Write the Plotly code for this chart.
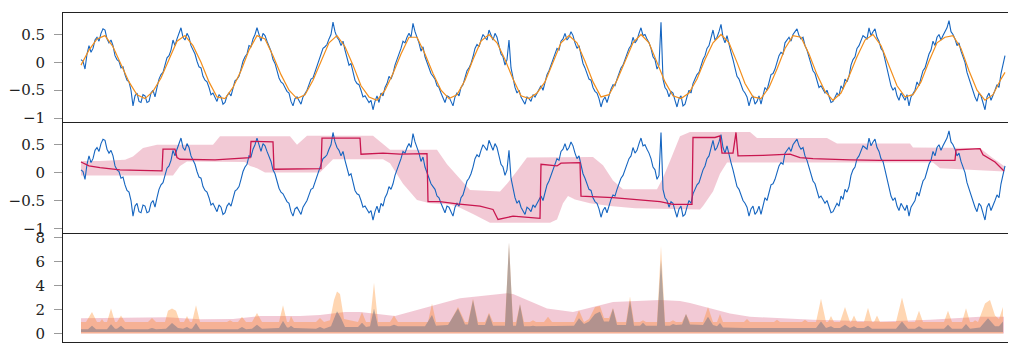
import plotly.graph_objects as go

# ---------------- data ----------------
T_STEP = 2  # time units between raw samples

# raw noisy signal (top and middle panels)
BLUE = [
    0.05, 0.02, -0.12, 0.15, 0.30, 0.18, 0.25, 0.40, 0.45, 0.38,
    0.52, 0.60, 0.58, 0.42, 0.35, 0.40, 0.30, 0.12, 0.05, 0.02,
    -0.10, -0.08, -0.22, -0.32, -0.35, -0.50, -0.78, -0.60, -0.55, -0.70,
    -0.72, -0.58, -0.60, -0.72, -0.70, -0.55, -0.50, -0.62, -0.45, -0.30,
    -0.22, -0.18, -0.05, 0.08, 0.12, 0.22, 0.40, 0.30, 0.42, 0.52,
    0.62, 0.45, 0.40, 0.52, 0.45, 0.30, 0.22, 0.15, 0.02, -0.08,
    -0.10, -0.25, -0.32, -0.35, -0.45, -0.58, -0.55, -0.62, -0.70, -0.58,
    -0.62, -0.75, -0.72, -0.60, -0.55, -0.60, -0.45, -0.33, -0.30, -0.25,
    -0.12, 0.02, 0.10, 0.15, 0.30, 0.28, 0.42, 0.50, 0.62, 0.48,
    0.38, 0.52, 0.48, 0.38, 0.30, 0.20, 0.05, -0.02, -0.15, -0.28,
    -0.35, -0.38, -0.45, -0.52, -0.55, -0.70, -0.78, -0.65, -0.62, -0.70,
    -0.75, -0.62, -0.55, -0.50, -0.40, -0.30, -0.28, -0.18, -0.05, 0.05,
    0.12, 0.25, 0.28, 0.32, 0.42, 0.50, 0.72, 0.55, 0.45, 0.40,
    0.30, 0.38, 0.22, 0.10, -0.05, -0.02, -0.20, -0.32, -0.38, -0.40,
    -0.50, -0.62, -0.60, -0.65, -0.72, -0.68, -0.85, -0.70, -0.60, -0.72,
    -0.55, -0.60, -0.45, -0.38, -0.25, -0.30, -0.20, -0.05, 0.05, 0.12,
    0.25, 0.38, 0.35, 0.45, 0.52, 0.45, 0.70, 0.55, 0.45, 0.35,
    0.20, 0.28, 0.10, 0.00, -0.08, -0.20, -0.25, -0.30, -0.42, -0.45,
    -0.55, -0.65, -0.72, -0.60, -0.62, -0.70, -0.78, -0.62, -0.55, -0.60,
    -0.45, -0.40, -0.28, -0.15, -0.10, -0.02, 0.10, 0.25, 0.32, 0.28,
    0.40, 0.50, 0.45, 0.40, 0.58, 0.48, 0.40, 0.52, 0.45, 0.30,
    0.15, 0.10, -0.05, 0.05, 0.40, -0.10, -0.30, -0.45, -0.55, -0.50,
    -0.62, -0.70, -0.75, -0.62, -0.65, -0.70, -0.58, -0.62, -0.55, -0.48,
    -0.42, -0.50, -0.35, -0.22, -0.15, -0.05, 0.08, 0.18, 0.25, 0.22,
    0.38, 0.42, 0.52, 0.40, 0.45, 0.55, 0.48, 0.35, 0.25, 0.30,
    0.12, -0.02, -0.10, -0.22, -0.30, -0.32, -0.45, -0.52, -0.55, -0.65,
    -0.80, -0.68, -0.62, -0.72, -0.58, -0.48, -0.40, -0.42, -0.30, -0.18,
    -0.10, -0.05, 0.05, 0.18, 0.25, 0.30, 0.45, 0.35, 0.40, 0.52,
    0.62, 0.48, 0.50, 0.42, 0.35, 0.25, 0.10, 0.05, -0.12, -0.05,
    0.72, -0.30, -0.45, -0.50, -0.62, -0.52, -0.55, -0.68, -0.80, -0.65,
    -0.60, -0.78, -0.75, -0.62, -0.50, -0.55, -0.38, -0.30, -0.22, -0.18,
    -0.05, 0.05, 0.12, 0.25, 0.30, 0.45, 0.58, 0.40, 0.45, 0.55,
    0.68, 0.45, 0.35, 0.48, 0.30, 0.18, 0.05, -0.08, -0.25, -0.30,
    -0.40, -0.50, -0.55, -0.62, -0.78, -0.65, -0.60, -0.75, -0.70, -0.60,
    -0.75, -0.58, -0.45, -0.50, -0.35, -0.22, -0.20, -0.12, 0.00, 0.12,
    0.18, 0.15, 0.35, 0.40, 0.45, 0.38, 0.50, 0.55, 0.60, 0.48,
    0.42, 0.45, 0.30, 0.22, 0.10, -0.05, -0.15, -0.20, -0.35, -0.45,
    -0.42, -0.50, -0.55, -0.50, -0.62, -0.72, -0.70, -0.62, -0.55, -0.60,
    -0.42, -0.48, -0.30, -0.35, -0.25, -0.05, 0.05, 0.10, 0.25, 0.30,
    0.38, 0.48, 0.45, 0.42, 0.62, 0.48, 0.55, 0.60, 0.45, 0.38,
    0.25, 0.20, 0.05, -0.12, -0.25, -0.42, -0.50, -0.45, -0.60, -0.68,
    -0.55, -0.62, -0.68, -0.58, -0.78, -0.62, -0.55, -0.50, -0.35, -0.42,
    -0.28, -0.15, -0.10, 0.05, 0.15, 0.22, 0.38, 0.30, 0.45, 0.50,
    0.40, 0.48, 0.55, 0.62, 0.75, 0.55, 0.50, 0.42, 0.30, 0.35,
    0.20, 0.08, 0.00, -0.18, -0.30, -0.38, -0.50, -0.62, -0.70, -0.55,
    -0.60, -0.72, -0.85, -0.62, -0.55, -0.68, -0.60, -0.50, -0.40, -0.45,
    -0.20, -0.05, 0.12,
]

# smoothed signal (top panel)
ORANGE_T = [
    0, 8, 16, 24, 32, 40, 48, 56, 64, 72, 80, 88, 96, 104, 112, 120, 128, 136, 144, 152,
    160, 168, 176, 184, 192, 200, 208, 216, 224, 232, 240, 248, 256, 264, 272, 280, 288, 296, 304, 312,
    320, 328, 336, 344, 352, 360, 368, 376, 384, 392, 400, 408, 416, 424, 432, 440, 448, 456, 464, 472,
    480, 488, 496, 504, 512, 520, 528, 536, 544, 552, 560, 568, 576, 584, 592, 600, 608, 616, 624, 632,
    640, 648, 656, 664, 672, 680, 688, 696, 704, 712, 720, 728, 736, 744, 752, 760, 768, 776, 784, 792,
    800, 808, 816, 824, 832, 840, 848, 856, 864, 872, 880, 888, 896, 904, 912, 920, 924,
]
ORANGE = [
    -0.05, 0.22, 0.42, 0.48, 0.28, -0.05, -0.35, -0.58, -0.65, -0.52,
    -0.28, 0.05, 0.38, 0.48, 0.30, 0.00, -0.35, -0.62, -0.65, -0.45,
    -0.15, 0.22, 0.48, 0.42, 0.12, -0.22, -0.50, -0.65, -0.58, -0.32,
    0.00, 0.35, 0.48, 0.28, -0.05, -0.42, -0.62, -0.68, -0.50, -0.20,
    0.15, 0.45, 0.45, 0.15, -0.20, -0.50, -0.65, -0.58, -0.32, 0.05,
    0.38, 0.50, 0.35, 0.05, -0.30, -0.60, -0.65, -0.55, -0.35, 0.00,
    0.35, 0.48, 0.35, 0.02, -0.35, -0.62, -0.58, -0.32, 0.02, 0.35,
    0.50, 0.35, 0.00, -0.35, -0.60, -0.65, -0.55, -0.30, 0.05, 0.35,
    0.50, 0.35, 0.00, -0.38, -0.62, -0.65, -0.45, -0.12, 0.25, 0.48,
    0.45, 0.15, -0.22, -0.52, -0.68, -0.55, -0.25, 0.10, 0.40, 0.50,
    0.30, -0.05, -0.42, -0.62, -0.58, -0.35, 0.02, 0.35, 0.45, 0.48,
    0.25, -0.15, -0.50, -0.68, -0.58, -0.30, -0.18,
]

# middle panel: estimate line and its band
EST_T = [0, 4, 8, 19, 39, 59, 81, 82, 94, 96, 99, 134, 169, 170, 192, 193, 240, 241, 279, 280,
         302, 319, 346, 347, 359, 376, 399, 412, 417, 432, 459, 460, 476, 480, 499, 500, 532, 579,
         592, 611, 612, 634, 639, 641, 652, 655, 657, 682, 709, 719, 732, 769, 799, 874, 875, 899,
         902, 914, 923]
EST = [0.19, 0.15, 0.12, 0.09, 0.05, 0.04, 0.03, 0.42, 0.42, 0.27, 0.24, 0.23, 0.27, 0.56, 0.55,
       0.06, 0.07, 0.62, 0.62, 0.33, 0.35, 0.33, 0.34, -0.52, -0.52, -0.56, -0.60, -0.66, -0.84,
       -0.78, -0.82, 0.15, 0.12, 0.17, 0.18, -0.42, -0.45, -0.52, -0.57, -0.57, 0.63, 0.63, 0.66,
       0.35, 0.35, 0.72, 0.30, 0.31, 0.33, 0.27, 0.25, 0.23, 0.22, 0.22, 0.41, 0.43, 0.32, 0.19,
       0.03]

UPPER_T = [0, 19, 44, 52, 62, 76, 132, 139, 209, 216, 226, 292, 309, 356, 366, 379, 389, 419,
           426, 436, 446, 512, 522, 532, 542, 576, 582, 589, 599, 609, 669, 676, 746, 756, 829,
           832, 899, 909, 923]
UPPER = [0.21, 0.21, 0.23, 0.29, 0.44, 0.50, 0.50, 0.65, 0.65, 0.50, 0.66, 0.66, 0.41, 0.41,
         0.15, -0.10, -0.31, -0.34, -0.20, 0.03, 0.27, 0.28, 0.13, -0.14, -0.30, -0.30, -0.09,
         0.21, 0.65, 0.73, 0.73, 0.62, 0.62, 0.52, 0.52, 0.45, 0.44, 0.30, 0.12]

LOWER_T = [0, 92, 99, 106, 164, 169, 176, 184, 239, 252, 302, 309, 322, 336, 349, 369, 379, 392,
           402, 409, 469, 476, 482, 487, 494, 509, 529, 554, 619, 622, 632, 639, 646, 852, 859,
           923]
LOWER = [-0.05, -0.05, 0.12, 0.20, 0.19, 0.12, 0.08, 0.00, 0.00, 0.24, 0.24, 0.17, -0.20, -0.49,
         -0.55, -0.57, -0.63, -0.74, -0.83, -0.90, -0.90, -0.84, -0.55, -0.42, -0.48, -0.55,
         -0.60, -0.64, -0.66, -0.60, -0.34, -0.02, 0.18, 0.18, 0.08, 0.02]

# bottom panel: three score areas
PINK_T = [0, 69, 86, 119, 152, 179, 219, 239, 264, 279, 299, 314, 379, 426, 432, 466, 492, 532,
          579, 599, 609, 629, 649, 669, 699, 732, 799, 849, 899, 923]
PINK = [1.27, 1.30, 1.35, 1.18, 1.20, 1.45, 1.45, 1.55, 1.80, 1.80, 1.62, 1.45, 2.94, 3.35, 3.30,
        2.08, 1.80, 2.62, 2.80, 2.70, 2.54, 2.08, 1.67, 1.40, 1.27, 1.14, 1.00, 1.14, 1.40, 1.40]

PEACH_T = [0, 5, 11, 16, 19, 21, 23, 26, 30, 34, 36, 40, 44, 67, 71, 75, 84, 87, 91, 95, 99, 103,
           106, 109, 111, 115, 119, 146, 149, 152, 157, 161, 165, 171, 176, 181, 198, 202, 206,
           208, 210, 213, 235, 239, 243, 249, 253, 256, 259, 263, 277, 281, 285, 289, 293, 297,
           309, 313, 317, 347, 351, 355, 369, 377, 384, 387, 392, 397, 404, 408, 412, 424, 428,
           432, 435, 439, 443, 449, 452, 455, 463, 467, 471, 493, 498, 503, 508, 514, 519, 523,
           528, 532, 536, 545, 549, 553, 559, 562, 565, 576, 580, 584, 589, 592, 595, 601, 605,
           609, 622, 627, 632, 636, 639, 642, 663, 666, 669, 693, 696, 699, 721, 724, 727, 735,
           740, 745, 747, 750, 753, 759, 764, 769, 770, 773, 776, 783, 787, 791, 793, 796, 799,
           815, 821, 827, 834, 838, 842, 863, 867, 871, 881, 885, 889, 892, 894, 897, 900, 904,
           909, 914, 918, 922]
PEACH = [0.95, 0.95, 1.80, 0.95, 0.95, 1.20, 0.95, 0.95, 2.08, 0.95, 0.95, 1.50, 0.95, 0.95, 1.30,
         0.95, 0.95, 1.90, 2.08, 1.90, 0.95, 0.95, 1.45, 0.95, 0.95, 2.35, 0.95, 0.95, 1.10, 0.95,
         0.95, 1.40, 0.95, 0.95, 1.70, 0.95, 0.95, 2.35, 0.95, 0.95, 1.45, 0.95, 0.95, 1.30, 0.95,
         1.10, 2.80, 3.50, 3.30, 1.20, 0.95, 1.80, 0.95, 0.95, 4.24, 0.95, 0.95, 1.50, 0.95, 0.95,
         2.50, 0.95, 0.95, 2.20, 0.95, 0.95, 2.89, 0.95, 0.95, 1.73, 0.95, 0.95, 7.56, 0.95, 0.95,
         2.43, 0.95, 0.95, 1.10, 0.95, 0.95, 1.40, 0.95, 0.95, 1.94, 0.95, 1.20, 2.20, 2.30, 1.30,
         1.30, 2.13, 0.95, 0.95, 3.08, 0.95, 0.95, 1.10, 0.95, 0.95, 7.30, 0.95, 0.95, 1.10, 0.95,
         0.95, 1.62, 0.95, 0.95, 2.21, 0.95, 0.95, 1.62, 0.95, 0.95, 1.20, 0.95, 0.95, 1.15, 0.95,
         0.95, 1.15, 0.95, 0.95, 2.90, 0.95, 0.95, 1.45, 0.95, 0.95, 2.20, 0.95, 0.95, 1.50, 0.95,
         0.95, 2.15, 0.95, 0.95, 1.50, 0.95, 0.95, 3.00, 0.95, 0.95, 1.90, 0.95, 0.95, 1.90, 0.95,
         0.95, 2.10, 0.95, 0.95, 1.10, 0.95, 1.60, 2.50, 2.80, 1.50, 1.20, 2.20]

GRAY_BASE = 0.12
GRAY_T = [0, 7, 11, 15, 26, 30, 34, 36, 40, 44, 67, 71, 75, 85, 91, 97, 102, 106, 109, 111, 115,
          119, 157, 161, 165, 171, 176, 181, 198, 202, 206, 208, 210, 213, 235, 239, 243, 250, 256,
          260, 264, 277, 281, 285, 289, 293, 297, 309, 313, 317, 344, 351, 355, 367, 377, 384, 387,
          392, 397, 404, 408, 412, 424, 428, 432, 435, 439, 443, 449, 452, 455, 463, 467, 471, 493,
          498, 503, 508, 514, 519, 523, 528, 532, 536, 545, 549, 553, 559, 562, 565, 576, 580, 584,
          589, 592, 595, 601, 605, 609, 622, 627, 632, 636, 639, 642, 663, 735, 740, 745, 750, 753,
          759, 764, 769, 773, 776, 783, 787, 791, 815, 821, 827, 834, 838, 842, 863, 867, 871, 881,
          885, 889, 899, 907, 914, 918, 922]
GRAY = [0.36, 0.36, 0.65, 0.36, 0.36, 0.78, 0.40, 0.40, 0.65, 0.36, 0.36, 0.45, 0.36, 0.40, 0.87,
        0.45, 0.40, 0.54, 0.40, 0.40, 0.87, 0.36, 0.36, 0.54, 0.36, 0.40, 0.73, 0.40, 0.45, 1.05,
        0.50, 0.50, 0.65, 0.45, 0.40, 0.54, 0.40, 0.60, 1.86, 1.30, 0.55, 0.55, 0.90, 0.55, 0.60,
        2.08, 0.60, 0.60, 0.73, 0.60, 0.60, 1.54, 0.65, 0.70, 2.08, 0.75, 0.75, 2.80, 0.70, 0.70,
        1.62, 0.65, 0.65, 7.56, 0.65, 0.65, 2.43, 0.60, 0.60, 0.65, 0.60, 0.60, 0.65, 0.60, 0.65,
        1.27, 0.80, 1.00, 1.62, 1.81, 1.00, 1.00, 2.08, 0.70, 0.70, 2.76, 0.65, 0.65, 0.90, 0.65,
        0.65, 6.13, 0.65, 0.65, 0.80, 0.70, 0.75, 1.62, 0.75, 0.70, 1.40, 0.70, 0.60, 0.87, 0.50,
        0.45, 0.45, 1.00, 0.45, 0.60, 0.45, 0.45, 0.73, 0.45, 0.60, 0.45, 0.45, 0.65, 0.40, 0.40,
        1.00, 0.40, 0.40, 0.60, 0.40, 0.40, 0.73, 0.40, 0.40, 0.80, 0.40, 0.50, 1.27, 0.60, 0.60,
        1.00]

Y_TICKS = [-1, -0.5, 0, 0.5]
Y_TICKTEXT = ["\u22121", "\u22120.5", "0", "0.5"]
SCORE_TICKS = [0, 2, 4, 6, 8]
SCORE_TICKTEXT = ["0", "2", "4", "6", "8"]

# ---------------- styles ----------------
BLUE_C = "#1565c0"
ORANGE_C = "#f28e1c"
CRIMSON_C = "#c9164f"
BAND_C = "rgba(200,30,80,0.24)"
PEACH_C = "rgba(255,127,14,0.32)"
GRAY_C = "rgba(110,115,135,0.5)"
FONT = dict(family="DejaVu Serif", size=15, color="#222")

blue_t = [i * T_STEP for i in range(len(BLUE))]

fig = go.Figure()

# top panel
fig.add_trace(go.Scatter(x=blue_t, y=BLUE, mode="lines", line=dict(color=BLUE_C, width=1.1),
                         xaxis="x", yaxis="y", showlegend=False, hoverinfo="skip"))
fig.add_trace(go.Scatter(x=ORANGE_T, y=ORANGE, mode="lines", line=dict(color=ORANGE_C, width=1.2),
                         xaxis="x", yaxis="y", showlegend=False, hoverinfo="skip"))

# middle panel
fig.add_trace(go.Scatter(x=UPPER_T + LOWER_T[::-1], y=UPPER + LOWER[::-1], mode="lines",
                         fill="toself", fillcolor=BAND_C, line=dict(width=0),
                         xaxis="x2", yaxis="y2", showlegend=False, hoverinfo="skip"))
fig.add_trace(go.Scatter(x=blue_t, y=BLUE, mode="lines", line=dict(color=BLUE_C, width=1.1),
                         xaxis="x2", yaxis="y2", showlegend=False, hoverinfo="skip"))
fig.add_trace(go.Scatter(x=EST_T, y=EST, mode="lines", line=dict(color=CRIMSON_C, width=1.3),
                         xaxis="x2", yaxis="y2", showlegend=False, hoverinfo="skip"))

# bottom panel
fig.add_trace(go.Scatter(x=PINK_T, y=PINK, mode="lines", fill="tozeroy", fillcolor=BAND_C,
                         line=dict(width=0), xaxis="x3", yaxis="y3", showlegend=False,
                         hoverinfo="skip"))
fig.add_trace(go.Scatter(x=PEACH_T, y=PEACH, mode="lines", fill="tozeroy", fillcolor=PEACH_C,
                         line=dict(width=0), xaxis="x3", yaxis="y3", showlegend=False,
                         hoverinfo="skip"))
fig.add_trace(go.Scatter(x=GRAY_T + [GRAY_T[-1], GRAY_T[0]], y=GRAY + [GRAY_BASE, GRAY_BASE],
                         mode="lines", fill="toself", fillcolor=GRAY_C, line=dict(width=0),
                         xaxis="x3", yaxis="y3", showlegend=False, hoverinfo="skip"))

XR = [-18, 934]
xcommon = dict(range=XR, showline=True, mirror=True, linecolor="#222", linewidth=1,
               showticklabels=False, ticks="", showgrid=False, zeroline=False)
ycommon = dict(showline=True, linecolor="#222", linewidth=1, ticks="outside", ticklen=8,
               tickwidth=1.2, tickcolor="#9a9a9a", showgrid=False, zeroline=False,
               tickfont=FONT, ticklabelstandoff=6)

# the page body adds an 8px offset; sizes below place the panels accordingly
fig.update_layout(
    width=1008, height=339,
    margin=dict(l=55, r=1, t=0, b=1),
    paper_bgcolor="white", plot_bgcolor="white",
    xaxis=dict(domain=[0, 1], anchor="y", **xcommon),
    yaxis=dict(domain=[0.6686, 1.0], anchor="x", range=[-1.07, 0.885],
               tickvals=Y_TICKS, ticktext=Y_TICKTEXT, **ycommon),
    xaxis2=dict(domain=[0, 1], anchor="y2", **xcommon),
    yaxis2=dict(domain=[0.3314, 0.6657], anchor="x2", range=[-1.082, 0.89],
                tickvals=Y_TICKS, ticktext=Y_TICKTEXT, **ycommon),
    xaxis3=dict(domain=[0, 1], anchor="y3", **xcommon),
    yaxis3=dict(domain=[0.0, 0.3284], anchor="x3", range=[-0.71, 8.3],
                tickvals=SCORE_TICKS, ticktext=SCORE_TICKTEXT, **ycommon),
)

fig.write_html("out.html")
